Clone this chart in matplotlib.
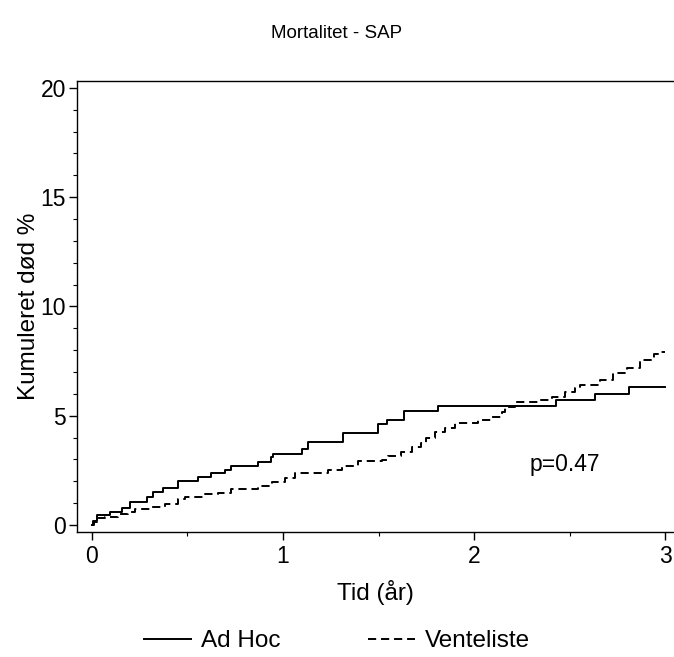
import matplotlib
matplotlib.use("Agg")
import matplotlib.pyplot as plt
from matplotlib.ticker import MultipleLocator

plt.rcParams['font.family'] = ['Liberation Sans', 'DejaVu Sans']

# cumulative mortality (%)
adhoc_t = [0, 0.005, 0.025, 0.094, 0.155, 0.20, 0.29, 0.32, 0.37, 0.45, 0.556,
           0.623, 0.696, 0.73, 0.87, 0.937, 0.95, 1.10, 1.13, 1.316, 1.496,
           1.543, 1.635, 1.81, 2.43, 2.634, 2.81, 3.0]
adhoc_y = [0, 0.2, 0.46, 0.6, 0.76, 1.07, 1.30, 1.52, 1.68, 2.01, 2.18,
           2.37, 2.52, 2.71, 2.90, 3.10, 3.25, 3.46, 3.81, 4.20, 4.61,
           4.81, 5.22, 5.46, 5.72, 6.00, 6.30, 6.30]

vente_t = [0, 0.01, 0.025, 0.068, 0.138, 0.19, 0.225, 0.31, 0.38, 0.45, 0.487,
           0.58, 0.66, 0.73, 0.87, 0.94, 1.01, 1.063, 1.15, 1.237, 1.307,
           1.394, 1.517, 1.55, 1.62, 1.674, 1.72, 1.75, 1.796, 1.85, 1.90,
           2.02, 2.09, 2.145, 2.16, 2.215, 2.337, 2.41, 2.476, 2.53, 2.555,
           2.66, 2.73, 2.80, 2.87, 2.94, 2.98, 3.0]
vente_y = [0, 0.15, 0.31, 0.38, 0.50, 0.61, 0.72, 0.84, 0.96, 1.17, 1.27,
           1.42, 1.48, 1.63, 1.78, 1.98, 2.14, 2.37, 2.39, 2.52, 2.70,
           2.93, 2.97, 3.16, 3.36, 3.58, 3.74, 4.00, 4.27, 4.45, 4.65,
           4.81, 4.96, 5.19, 5.41, 5.64, 5.72, 5.87, 6.10, 6.26, 6.41,
           6.61, 6.94, 7.17, 7.55, 7.81, 7.93, 7.93]

labels = ['Ad Hoc', 'Venteliste']
title = 'Mortalitet - SAP'
p_text = 'p=0.47'

fig = plt.figure(figsize=(6.74, 6.57), dpi=100)
ax = fig.add_axes([77 / 674, 1 - 531.7 / 657, 1 - 77 / 674, (531.7 - 80.7) / 657])

ax.plot(adhoc_t, adhoc_y, drawstyle='steps-post', color='black', lw=1.4,
        label=labels[0])
ax.plot(vente_t, vente_y, drawstyle='steps-post', color='black', lw=1.4,
        dashes=(4.2, 2.5), label=labels[1])

ax.set_xlim(-0.0785, 3.047)
ax.set_ylim(-0.31, 20.33)
ax.xaxis.set_major_locator(MultipleLocator(1))
ax.xaxis.set_minor_locator(MultipleLocator(0.5))
ax.yaxis.set_major_locator(MultipleLocator(5))
ax.yaxis.set_minor_locator(MultipleLocator(1))
ax.tick_params(which='major', direction='out', length=6, width=1,
               labelsize=16.5)
ax.tick_params(which='minor', direction='out', length=3, width=0.8)
ax.tick_params(axis='y', which='major', pad=2)
ax.spines['right'].set_visible(False)
for s in ['left', 'top', 'bottom']:
    ax.spines[s].set_linewidth(1)

ax.set_xlabel('Tid (år)', fontsize=17.5, labelpad=9)
ax.set_ylabel('Kumuleret død %', fontsize=17.5, labelpad=0)
ax.text(2.29, 2.75, p_text, fontsize=16.5, va='center', ha='left')

fig.text(337 / 674, 1 - 33 / 657, title, fontsize=13.5, ha='center',
         va='center')

fig.legend(loc='center', bbox_to_anchor=(337 / 674, 1 - 641 / 657), ncol=2,
           frameon=False, fontsize=17.5, handlelength=1.95, columnspacing=3.6,
           handletextpad=0.4, borderpad=0)

fig.savefig('out.png', dpi=100)
